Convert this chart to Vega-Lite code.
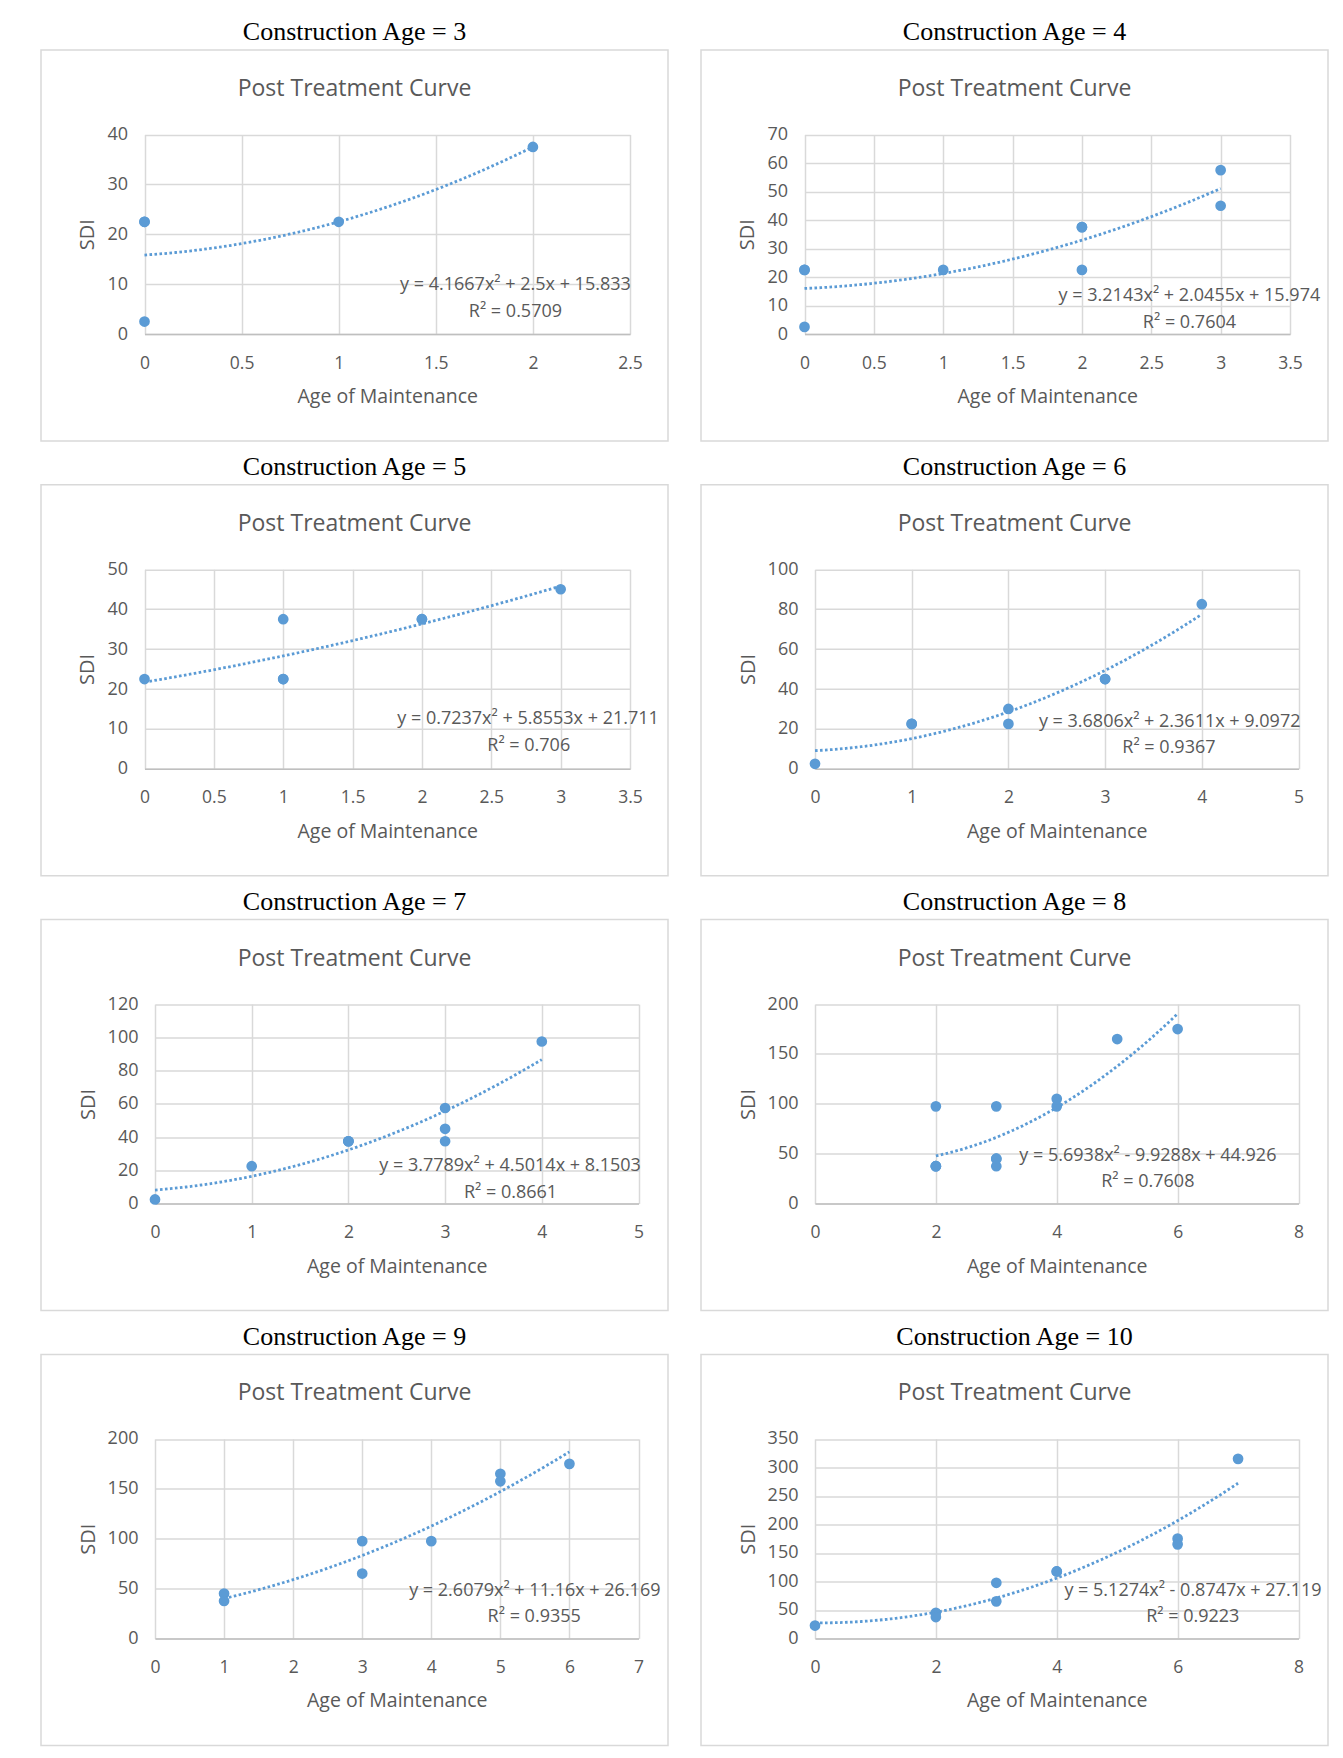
{
  "$schema": "https://vega.github.io/schema/vega-lite/v6.json",
  "background": "#ffffff",
  "padding": {"left": 40, "top": 19, "right": 5, "bottom": 5},
  "spacing": 11.8,
  "config": {
    "view": {"stroke": "#D9D9D9", "strokeWidth": 1.5},
    "axis": {"labelFont": "Open Sans", "labelFontSize": 17.5, "labelColor": "#595959", "titleFont": "Open Sans", "titleFontSize": 19.5, "titleFontWeight": "normal", "titleColor": "#595959", "gridColor": "#D9D9D9", "gridWidth": 1.5, "ticks": false, "tickSize": 0, "labelOverlap": false, "labelFlush": false, "labelBound": false},
    "axisX": {"labelPadding": 20, "titlePadding": 16},
    "axisY": {"labelPadding": 17, "titlePadding": 9, "labelFontSize": 18, "titleFontSize": 20}
  },
  "vconcat": [
    {"spacing": 31, "hconcat": [
      {
        "title": {"text": "Construction Age = 3", "font": "Liberation Serif", "fontSize": 26, "fontWeight": "normal", "color": "#000000", "anchor": "middle", "offset": 4},
        "vconcat": [{
          "width": 627, "height": 391,
          "title": {"text": "Post Treatment Curve", "font": "Open Sans", "fontSize": 23, "fontWeight": "normal", "color": "#595959", "anchor": "middle", "frame": "group", "offset": -51},
          "data": {"values": [{"Age": 0, "SDI": 2.5}, {"Age": 0, "SDI": 22.5}, {"Age": 0, "SDI": 22.5}, {"Age": 1, "SDI": 22.5}, {"Age": 2, "SDI": 37.5}]},
          "resolve": {"axis": {"x": "independent"}},
          "layer": [
            {"mark": {"type": "circle", "size": 115, "color": "#5B9BD5", "opacity": 1},
             "encoding": {
               "x": {"field": "Age", "type": "quantitative", "scale": {"domain": [0, 2.5], "range": [103.5, 589], "nice": false, "zero": false},
                     "axis": {"orient": "bottom", "offset": -107, "values": [0, 0.5, 1, 1.5, 2, 2.5], "format": "~f", "grid": false, "domain": true, "domainColor": "#BFBFBF", "domainWidth": 1.5, "title": "Age of Maintenance"}},
               "y": {"field": "SDI", "type": "quantitative", "scale": {"domain": [0, 40], "range": [284, 84.5], "nice": false, "zero": false},
                     "axis": {"orient": "left", "offset": -103.5, "values": [0, 10, 20, 30, 40], "format": "~f", "grid": true, "domain": false, "title": "SDI"}}
             }},
            {"transform": [{"regression": "SDI", "on": "Age", "method": "poly", "order": 2}],
             "mark": {"type": "line", "color": "#5B9BD5", "strokeWidth": 2.8, "strokeDash": [2.6, 2.4]},
             "encoding": {
               "x": {"field": "Age", "type": "quantitative", "scale": {"domain": [0, 2.5], "range": [103.5, 589], "nice": false, "zero": false},
                     "axis": {"orient": "top", "offset": 0, "values": [0, 0.5, 1, 1.5, 2, 2.5], "grid": true, "labels": false, "domain": false, "ticks": false, "title": null}},
               "y": {"field": "SDI", "type": "quantitative", "scale": {"domain": [0, 40], "range": [284, 84.5], "nice": false, "zero": false}}
             }},
            {"data": {"values": [{"eq": "y = 4.1667x² + 2.5x + 15.833"}]},
             "mark": {"type": "text", "font": "Open Sans", "fontSize": 18, "color": "#595959", "align": "center", "baseline": "middle"},
             "encoding": {
               "x": {"datum": 1.91, "type": "quantitative", "scale": {"domain": [0, 2.5], "range": [103.5, 589], "nice": false, "zero": false}, "axis": null},
               "y": {"datum": 9.86, "type": "quantitative", "scale": {"domain": [0, 40], "range": [284, 84.5], "nice": false, "zero": false}},
               "text": {"field": "eq"}
             }},
            {"data": {"values": [{"r2": "R² = 0.5709"}]},
             "mark": {"type": "text", "font": "Open Sans", "fontSize": 18, "color": "#595959", "align": "center", "baseline": "middle"},
             "encoding": {
               "x": {"datum": 1.91, "type": "quantitative", "scale": {"domain": [0, 2.5], "range": [103.5, 589], "nice": false, "zero": false}, "axis": null},
               "y": {"datum": 4.4, "type": "quantitative", "scale": {"domain": [0, 40], "range": [284, 84.5], "nice": false, "zero": false}},
               "text": {"field": "r2"}
             }}
          ]
        }]
      },
      {
        "title": {"text": "Construction Age = 4", "font": "Liberation Serif", "fontSize": 26, "fontWeight": "normal", "color": "#000000", "anchor": "middle", "offset": 4},
        "vconcat": [{
          "width": 627, "height": 391,
          "title": {"text": "Post Treatment Curve", "font": "Open Sans", "fontSize": 23, "fontWeight": "normal", "color": "#595959", "anchor": "middle", "frame": "group", "offset": -51},
          "data": {"values": [{"Age": 0, "SDI": 2.5}, {"Age": 0, "SDI": 22.5}, {"Age": 0, "SDI": 22.5}, {"Age": 1, "SDI": 22.5}, {"Age": 2, "SDI": 22.5}, {"Age": 2, "SDI": 37.5}, {"Age": 2, "SDI": 37.5}, {"Age": 3, "SDI": 45}, {"Age": 3, "SDI": 57.5}]},
          "resolve": {"axis": {"x": "independent"}},
          "layer": [
            {"mark": {"type": "circle", "size": 115, "color": "#5B9BD5", "opacity": 1},
             "encoding": {
               "x": {"field": "Age", "type": "quantitative", "scale": {"domain": [0, 3.5], "range": [103.5, 589], "nice": false, "zero": false},
                     "axis": {"orient": "bottom", "offset": -107, "values": [0, 0.5, 1, 1.5, 2, 2.5, 3, 3.5], "format": "~f", "grid": false, "domain": true, "domainColor": "#BFBFBF", "domainWidth": 1.5, "title": "Age of Maintenance"}},
               "y": {"field": "SDI", "type": "quantitative", "scale": {"domain": [0, 70], "range": [284, 84.5], "nice": false, "zero": false},
                     "axis": {"orient": "left", "offset": -103.5, "values": [0, 10, 20, 30, 40, 50, 60, 70], "format": "~f", "grid": true, "domain": false, "title": "SDI"}}
             }},
            {"transform": [{"regression": "SDI", "on": "Age", "method": "poly", "order": 2}],
             "mark": {"type": "line", "color": "#5B9BD5", "strokeWidth": 2.8, "strokeDash": [2.6, 2.4]},
             "encoding": {
               "x": {"field": "Age", "type": "quantitative", "scale": {"domain": [0, 3.5], "range": [103.5, 589], "nice": false, "zero": false},
                     "axis": {"orient": "top", "offset": 0, "values": [0, 0.5, 1, 1.5, 2, 2.5, 3, 3.5], "grid": true, "labels": false, "domain": false, "ticks": false, "title": null}},
               "y": {"field": "SDI", "type": "quantitative", "scale": {"domain": [0, 70], "range": [284, 84.5], "nice": false, "zero": false}}
             }},
            {"data": {"values": [{"eq": "y = 3.2143x² + 2.0455x + 15.974"}]},
             "mark": {"type": "text", "font": "Open Sans", "fontSize": 18, "color": "#595959", "align": "center", "baseline": "middle"},
             "encoding": {
               "x": {"datum": 2.775, "type": "quantitative", "scale": {"domain": [0, 3.5], "range": [103.5, 589], "nice": false, "zero": false}, "axis": null},
               "y": {"datum": 13.3, "type": "quantitative", "scale": {"domain": [0, 70], "range": [284, 84.5], "nice": false, "zero": false}},
               "text": {"field": "eq"}
             }},
            {"data": {"values": [{"r2": "R² = 0.7604"}]},
             "mark": {"type": "text", "font": "Open Sans", "fontSize": 18, "color": "#595959", "align": "center", "baseline": "middle"},
             "encoding": {
               "x": {"datum": 2.775, "type": "quantitative", "scale": {"domain": [0, 3.5], "range": [103.5, 589], "nice": false, "zero": false}, "axis": null},
               "y": {"datum": 3.9, "type": "quantitative", "scale": {"domain": [0, 70], "range": [284, 84.5], "nice": false, "zero": false}},
               "text": {"field": "r2"}
             }}
          ]
        }]
      }
    ]},
    {"spacing": 31, "hconcat": [
      {
        "title": {"text": "Construction Age = 5", "font": "Liberation Serif", "fontSize": 26, "fontWeight": "normal", "color": "#000000", "anchor": "middle", "offset": 4},
        "vconcat": [{
          "width": 627, "height": 391,
          "title": {"text": "Post Treatment Curve", "font": "Open Sans", "fontSize": 23, "fontWeight": "normal", "color": "#595959", "anchor": "middle", "frame": "group", "offset": -51},
          "data": {"values": [{"Age": 0, "SDI": 22.5}, {"Age": 1, "SDI": 22.5}, {"Age": 1, "SDI": 22.5}, {"Age": 1, "SDI": 37.5}, {"Age": 2, "SDI": 37.5}, {"Age": 2, "SDI": 37.5}, {"Age": 3, "SDI": 45}]},
          "resolve": {"axis": {"x": "independent"}},
          "layer": [
            {"mark": {"type": "circle", "size": 115, "color": "#5B9BD5", "opacity": 1},
             "encoding": {
               "x": {"field": "Age", "type": "quantitative", "scale": {"domain": [0, 3.5], "range": [103.5, 589], "nice": false, "zero": false},
                     "axis": {"orient": "bottom", "offset": -107, "values": [0, 0.5, 1, 1.5, 2, 2.5, 3, 3.5], "format": "~f", "grid": false, "domain": true, "domainColor": "#BFBFBF", "domainWidth": 1.5, "title": "Age of Maintenance"}},
               "y": {"field": "SDI", "type": "quantitative", "scale": {"domain": [0, 50], "range": [284, 84.5], "nice": false, "zero": false},
                     "axis": {"orient": "left", "offset": -103.5, "values": [0, 10, 20, 30, 40, 50], "format": "~f", "grid": true, "domain": false, "title": "SDI"}}
             }},
            {"transform": [{"regression": "SDI", "on": "Age", "method": "poly", "order": 2}],
             "mark": {"type": "line", "color": "#5B9BD5", "strokeWidth": 2.8, "strokeDash": [2.6, 2.4]},
             "encoding": {
               "x": {"field": "Age", "type": "quantitative", "scale": {"domain": [0, 3.5], "range": [103.5, 589], "nice": false, "zero": false},
                     "axis": {"orient": "top", "offset": 0, "values": [0, 0.5, 1, 1.5, 2, 2.5, 3, 3.5], "grid": true, "labels": false, "domain": false, "ticks": false, "title": null}},
               "y": {"field": "SDI", "type": "quantitative", "scale": {"domain": [0, 50], "range": [284, 84.5], "nice": false, "zero": false}}
             }},
            {"data": {"values": [{"eq": "y = 0.7237x² + 5.8553x + 21.711"}]},
             "mark": {"type": "text", "font": "Open Sans", "fontSize": 18, "color": "#595959", "align": "center", "baseline": "middle"},
             "encoding": {
               "x": {"datum": 2.765, "type": "quantitative", "scale": {"domain": [0, 3.5], "range": [103.5, 589], "nice": false, "zero": false}, "axis": null},
               "y": {"datum": 12.46, "type": "quantitative", "scale": {"domain": [0, 50], "range": [284, 84.5], "nice": false, "zero": false}},
               "text": {"field": "eq"}
             }},
            {"data": {"values": [{"r2": "R² = 0.706"}]},
             "mark": {"type": "text", "font": "Open Sans", "fontSize": 18, "color": "#595959", "align": "center", "baseline": "middle"},
             "encoding": {
               "x": {"datum": 2.77, "type": "quantitative", "scale": {"domain": [0, 3.5], "range": [103.5, 589], "nice": false, "zero": false}, "axis": null},
               "y": {"datum": 5.8, "type": "quantitative", "scale": {"domain": [0, 50], "range": [284, 84.5], "nice": false, "zero": false}},
               "text": {"field": "r2"}
             }}
          ]
        }]
      },
      {
        "title": {"text": "Construction Age = 6", "font": "Liberation Serif", "fontSize": 26, "fontWeight": "normal", "color": "#000000", "anchor": "middle", "offset": 4},
        "vconcat": [{
          "width": 627, "height": 391,
          "title": {"text": "Post Treatment Curve", "font": "Open Sans", "fontSize": 23, "fontWeight": "normal", "color": "#595959", "anchor": "middle", "frame": "group", "offset": -51},
          "data": {"values": [{"Age": 0, "SDI": 2.5}, {"Age": 1, "SDI": 22.5}, {"Age": 1, "SDI": 22.5}, {"Age": 2, "SDI": 22.5}, {"Age": 2, "SDI": 30}, {"Age": 3, "SDI": 45}, {"Age": 3, "SDI": 45}, {"Age": 4, "SDI": 82.5}]},
          "resolve": {"axis": {"x": "independent"}},
          "layer": [
            {"mark": {"type": "circle", "size": 115, "color": "#5B9BD5", "opacity": 1},
             "encoding": {
               "x": {"field": "Age", "type": "quantitative", "scale": {"domain": [0, 5], "range": [114, 597.5], "nice": false, "zero": false},
                     "axis": {"orient": "bottom", "offset": -107, "values": [0, 1, 2, 3, 4, 5], "format": "~f", "grid": false, "domain": true, "domainColor": "#BFBFBF", "domainWidth": 1.5, "title": "Age of Maintenance"}},
               "y": {"field": "SDI", "type": "quantitative", "scale": {"domain": [0, 100], "range": [284, 84.5], "nice": false, "zero": false},
                     "axis": {"orient": "left", "offset": -114, "values": [0, 20, 40, 60, 80, 100], "format": "~f", "grid": true, "domain": false, "title": "SDI"}}
             }},
            {"transform": [{"regression": "SDI", "on": "Age", "method": "poly", "order": 2}],
             "mark": {"type": "line", "color": "#5B9BD5", "strokeWidth": 2.8, "strokeDash": [2.6, 2.4]},
             "encoding": {
               "x": {"field": "Age", "type": "quantitative", "scale": {"domain": [0, 5], "range": [114, 597.5], "nice": false, "zero": false},
                     "axis": {"orient": "top", "offset": 0, "values": [0, 1, 2, 3, 4, 5], "grid": true, "labels": false, "domain": false, "ticks": false, "title": null}},
               "y": {"field": "SDI", "type": "quantitative", "scale": {"domain": [0, 100], "range": [284, 84.5], "nice": false, "zero": false}}
             }},
            {"data": {"values": [{"eq": "y = 3.6806x² + 2.3611x + 9.0972"}]},
             "mark": {"type": "text", "font": "Open Sans", "fontSize": 18, "color": "#595959", "align": "center", "baseline": "middle"},
             "encoding": {
               "x": {"datum": 3.668, "type": "quantitative", "scale": {"domain": [0, 5], "range": [114, 597.5], "nice": false, "zero": false}, "axis": null},
               "y": {"datum": 23.5, "type": "quantitative", "scale": {"domain": [0, 100], "range": [284, 84.5], "nice": false, "zero": false}},
               "text": {"field": "eq"}
             }},
            {"data": {"values": [{"r2": "R² = 0.9367"}]},
             "mark": {"type": "text", "font": "Open Sans", "fontSize": 18, "color": "#595959", "align": "center", "baseline": "middle"},
             "encoding": {
               "x": {"datum": 3.66, "type": "quantitative", "scale": {"domain": [0, 5], "range": [114, 597.5], "nice": false, "zero": false}, "axis": null},
               "y": {"datum": 10.6, "type": "quantitative", "scale": {"domain": [0, 100], "range": [284, 84.5], "nice": false, "zero": false}},
               "text": {"field": "r2"}
             }}
          ]
        }]
      }
    ]},
    {"spacing": 31, "hconcat": [
      {
        "title": {"text": "Construction Age = 7", "font": "Liberation Serif", "fontSize": 26, "fontWeight": "normal", "color": "#000000", "anchor": "middle", "offset": 4},
        "vconcat": [{
          "width": 627, "height": 391,
          "title": {"text": "Post Treatment Curve", "font": "Open Sans", "fontSize": 23, "fontWeight": "normal", "color": "#595959", "anchor": "middle", "frame": "group", "offset": -51},
          "data": {"values": [{"Age": 0, "SDI": 2.5}, {"Age": 1, "SDI": 22.5}, {"Age": 2, "SDI": 37.5}, {"Age": 2, "SDI": 37.5}, {"Age": 2, "SDI": 37.5}, {"Age": 3, "SDI": 37.5}, {"Age": 3, "SDI": 45}, {"Age": 3, "SDI": 57.5}, {"Age": 4, "SDI": 97.5}]},
          "resolve": {"axis": {"x": "independent"}},
          "layer": [
            {"mark": {"type": "circle", "size": 115, "color": "#5B9BD5", "opacity": 1},
             "encoding": {
               "x": {"field": "Age", "type": "quantitative", "scale": {"domain": [0, 5], "range": [114, 597.5], "nice": false, "zero": false},
                     "axis": {"orient": "bottom", "offset": -107, "values": [0, 1, 2, 3, 4, 5], "format": "~f", "grid": false, "domain": true, "domainColor": "#BFBFBF", "domainWidth": 1.5, "title": "Age of Maintenance"}},
               "y": {"field": "SDI", "type": "quantitative", "scale": {"domain": [0, 120], "range": [284, 84.5], "nice": false, "zero": false},
                     "axis": {"orient": "left", "offset": -114, "values": [0, 20, 40, 60, 80, 100, 120], "format": "~f", "grid": true, "domain": false, "title": "SDI"}}
             }},
            {"transform": [{"regression": "SDI", "on": "Age", "method": "poly", "order": 2}],
             "mark": {"type": "line", "color": "#5B9BD5", "strokeWidth": 2.8, "strokeDash": [2.6, 2.4]},
             "encoding": {
               "x": {"field": "Age", "type": "quantitative", "scale": {"domain": [0, 5], "range": [114, 597.5], "nice": false, "zero": false},
                     "axis": {"orient": "top", "offset": 0, "values": [0, 1, 2, 3, 4, 5], "grid": true, "labels": false, "domain": false, "ticks": false, "title": null}},
               "y": {"field": "SDI", "type": "quantitative", "scale": {"domain": [0, 120], "range": [284, 84.5], "nice": false, "zero": false}}
             }},
            {"data": {"values": [{"eq": "y = 3.7789x² + 4.5014x + 8.1503"}]},
             "mark": {"type": "text", "font": "Open Sans", "fontSize": 18, "color": "#595959", "align": "center", "baseline": "middle"},
             "encoding": {
               "x": {"datum": 3.672, "type": "quantitative", "scale": {"domain": [0, 5], "range": [114, 597.5], "nice": false, "zero": false}, "axis": null},
               "y": {"datum": 22.8, "type": "quantitative", "scale": {"domain": [0, 120], "range": [284, 84.5], "nice": false, "zero": false}},
               "text": {"field": "eq"}
             }},
            {"data": {"values": [{"r2": "R² = 0.8661"}]},
             "mark": {"type": "text", "font": "Open Sans", "fontSize": 18, "color": "#595959", "align": "center", "baseline": "middle"},
             "encoding": {
               "x": {"datum": 3.676, "type": "quantitative", "scale": {"domain": [0, 5], "range": [114, 597.5], "nice": false, "zero": false}, "axis": null},
               "y": {"datum": 6.6, "type": "quantitative", "scale": {"domain": [0, 120], "range": [284, 84.5], "nice": false, "zero": false}},
               "text": {"field": "r2"}
             }}
          ]
        }]
      },
      {
        "title": {"text": "Construction Age = 8", "font": "Liberation Serif", "fontSize": 26, "fontWeight": "normal", "color": "#000000", "anchor": "middle", "offset": 4},
        "vconcat": [{
          "width": 627, "height": 391,
          "title": {"text": "Post Treatment Curve", "font": "Open Sans", "fontSize": 23, "fontWeight": "normal", "color": "#595959", "anchor": "middle", "frame": "group", "offset": -51},
          "data": {"values": [{"Age": 2, "SDI": 37.5}, {"Age": 2, "SDI": 37.5}, {"Age": 2, "SDI": 37.5}, {"Age": 2, "SDI": 97.5}, {"Age": 3, "SDI": 37.5}, {"Age": 3, "SDI": 45}, {"Age": 3, "SDI": 45}, {"Age": 3, "SDI": 97.5}, {"Age": 4, "SDI": 97.5}, {"Age": 4, "SDI": 105}, {"Age": 5, "SDI": 165}, {"Age": 6, "SDI": 175}]},
          "resolve": {"axis": {"x": "independent"}},
          "layer": [
            {"mark": {"type": "circle", "size": 115, "color": "#5B9BD5", "opacity": 1},
             "encoding": {
               "x": {"field": "Age", "type": "quantitative", "scale": {"domain": [0, 8], "range": [114, 597.5], "nice": false, "zero": false},
                     "axis": {"orient": "bottom", "offset": -107, "values": [0, 2, 4, 6, 8], "format": "~f", "grid": false, "domain": true, "domainColor": "#BFBFBF", "domainWidth": 1.5, "title": "Age of Maintenance"}},
               "y": {"field": "SDI", "type": "quantitative", "scale": {"domain": [0, 200], "range": [284, 84.5], "nice": false, "zero": false},
                     "axis": {"orient": "left", "offset": -114, "values": [0, 50, 100, 150, 200], "format": "~f", "grid": true, "domain": false, "title": "SDI"}}
             }},
            {"transform": [{"regression": "SDI", "on": "Age", "method": "poly", "order": 2}],
             "mark": {"type": "line", "color": "#5B9BD5", "strokeWidth": 2.8, "strokeDash": [2.6, 2.4]},
             "encoding": {
               "x": {"field": "Age", "type": "quantitative", "scale": {"domain": [0, 8], "range": [114, 597.5], "nice": false, "zero": false},
                     "axis": {"orient": "top", "offset": 0, "values": [0, 2, 4, 6, 8], "grid": true, "labels": false, "domain": false, "ticks": false, "title": null}},
               "y": {"field": "SDI", "type": "quantitative", "scale": {"domain": [0, 200], "range": [284, 84.5], "nice": false, "zero": false}}
             }},
            {"data": {"values": [{"eq": "y = 5.6938x² - 9.9288x + 44.926"}]},
             "mark": {"type": "text", "font": "Open Sans", "fontSize": 18, "color": "#595959", "align": "center", "baseline": "middle"},
             "encoding": {
               "x": {"datum": 5.508, "type": "quantitative", "scale": {"domain": [0, 8], "range": [114, 597.5], "nice": false, "zero": false}, "axis": null},
               "y": {"datum": 47.5, "type": "quantitative", "scale": {"domain": [0, 200], "range": [284, 84.5], "nice": false, "zero": false}},
               "text": {"field": "eq"}
             }},
            {"data": {"values": [{"r2": "R² = 0.7608"}]},
             "mark": {"type": "text", "font": "Open Sans", "fontSize": 18, "color": "#595959", "align": "center", "baseline": "middle"},
             "encoding": {
               "x": {"datum": 5.507, "type": "quantitative", "scale": {"domain": [0, 8], "range": [114, 597.5], "nice": false, "zero": false}, "axis": null},
               "y": {"datum": 21.7, "type": "quantitative", "scale": {"domain": [0, 200], "range": [284, 84.5], "nice": false, "zero": false}},
               "text": {"field": "r2"}
             }}
          ]
        }]
      }
    ]},
    {"spacing": 31, "hconcat": [
      {
        "title": {"text": "Construction Age = 9", "font": "Liberation Serif", "fontSize": 26, "fontWeight": "normal", "color": "#000000", "anchor": "middle", "offset": 4},
        "vconcat": [{
          "width": 627, "height": 391,
          "title": {"text": "Post Treatment Curve", "font": "Open Sans", "fontSize": 23, "fontWeight": "normal", "color": "#595959", "anchor": "middle", "frame": "group", "offset": -51},
          "data": {"values": [{"Age": 1, "SDI": 45}, {"Age": 1, "SDI": 37.5}, {"Age": 3, "SDI": 97.5}, {"Age": 3, "SDI": 65}, {"Age": 4, "SDI": 97.5}, {"Age": 5, "SDI": 165}, {"Age": 5, "SDI": 157.5}, {"Age": 6, "SDI": 175}]},
          "resolve": {"axis": {"x": "independent"}},
          "layer": [
            {"mark": {"type": "circle", "size": 115, "color": "#5B9BD5", "opacity": 1},
             "encoding": {
               "x": {"field": "Age", "type": "quantitative", "scale": {"domain": [0, 7], "range": [114, 597.5], "nice": false, "zero": false},
                     "axis": {"orient": "bottom", "offset": -107, "values": [0, 1, 2, 3, 4, 5, 6, 7], "format": "~f", "grid": false, "domain": true, "domainColor": "#BFBFBF", "domainWidth": 1.5, "title": "Age of Maintenance"}},
               "y": {"field": "SDI", "type": "quantitative", "scale": {"domain": [0, 200], "range": [284, 84.5], "nice": false, "zero": false},
                     "axis": {"orient": "left", "offset": -114, "values": [0, 50, 100, 150, 200], "format": "~f", "grid": true, "domain": false, "title": "SDI"}}
             }},
            {"transform": [{"regression": "SDI", "on": "Age", "method": "poly", "order": 2}],
             "mark": {"type": "line", "color": "#5B9BD5", "strokeWidth": 2.8, "strokeDash": [2.6, 2.4]},
             "encoding": {
               "x": {"field": "Age", "type": "quantitative", "scale": {"domain": [0, 7], "range": [114, 597.5], "nice": false, "zero": false},
                     "axis": {"orient": "top", "offset": 0, "values": [0, 1, 2, 3, 4, 5, 6, 7], "grid": true, "labels": false, "domain": false, "ticks": false, "title": null}},
               "y": {"field": "SDI", "type": "quantitative", "scale": {"domain": [0, 200], "range": [284, 84.5], "nice": false, "zero": false}}
             }},
            {"data": {"values": [{"eq": "y = 2.6079x² + 11.16x + 26.169"}]},
             "mark": {"type": "text", "font": "Open Sans", "fontSize": 18, "color": "#595959", "align": "center", "baseline": "middle"},
             "encoding": {
               "x": {"datum": 5.499, "type": "quantitative", "scale": {"domain": [0, 7], "range": [114, 597.5], "nice": false, "zero": false}, "axis": null},
               "y": {"datum": 47.7, "type": "quantitative", "scale": {"domain": [0, 200], "range": [284, 84.5], "nice": false, "zero": false}},
               "text": {"field": "eq"}
             }},
            {"data": {"values": [{"r2": "R² = 0.9355"}]},
             "mark": {"type": "text", "font": "Open Sans", "fontSize": 18, "color": "#595959", "align": "center", "baseline": "middle"},
             "encoding": {
               "x": {"datum": 5.49, "type": "quantitative", "scale": {"domain": [0, 7], "range": [114, 597.5], "nice": false, "zero": false}, "axis": null},
               "y": {"datum": 21.5, "type": "quantitative", "scale": {"domain": [0, 200], "range": [284, 84.5], "nice": false, "zero": false}},
               "text": {"field": "r2"}
             }}
          ]
        }]
      },
      {
        "title": {"text": "Construction Age = 10", "font": "Liberation Serif", "fontSize": 26, "fontWeight": "normal", "color": "#000000", "anchor": "middle", "offset": 4},
        "vconcat": [{
          "width": 627, "height": 391,
          "title": {"text": "Post Treatment Curve", "font": "Open Sans", "fontSize": 23, "fontWeight": "normal", "color": "#595959", "anchor": "middle", "frame": "group", "offset": -51},
          "data": {"values": [{"Age": 0, "SDI": 22.5}, {"Age": 2, "SDI": 45}, {"Age": 2, "SDI": 37.5}, {"Age": 3, "SDI": 97.5}, {"Age": 3, "SDI": 65}, {"Age": 4, "SDI": 117.5}, {"Age": 4, "SDI": 117.5}, {"Age": 6, "SDI": 175}, {"Age": 6, "SDI": 165}, {"Age": 7, "SDI": 315}]},
          "resolve": {"axis": {"x": "independent"}},
          "layer": [
            {"mark": {"type": "circle", "size": 115, "color": "#5B9BD5", "opacity": 1},
             "encoding": {
               "x": {"field": "Age", "type": "quantitative", "scale": {"domain": [0, 8], "range": [114, 597.5], "nice": false, "zero": false},
                     "axis": {"orient": "bottom", "offset": -107, "values": [0, 2, 4, 6, 8], "format": "~f", "grid": false, "domain": true, "domainColor": "#BFBFBF", "domainWidth": 1.5, "title": "Age of Maintenance"}},
               "y": {"field": "SDI", "type": "quantitative", "scale": {"domain": [0, 350], "range": [284, 84.5], "nice": false, "zero": false},
                     "axis": {"orient": "left", "offset": -114, "values": [0, 50, 100, 150, 200, 250, 300, 350], "format": "~f", "grid": true, "domain": false, "title": "SDI"}}
             }},
            {"transform": [{"regression": "SDI", "on": "Age", "method": "poly", "order": 2}],
             "mark": {"type": "line", "color": "#5B9BD5", "strokeWidth": 2.8, "strokeDash": [2.6, 2.4]},
             "encoding": {
               "x": {"field": "Age", "type": "quantitative", "scale": {"domain": [0, 8], "range": [114, 597.5], "nice": false, "zero": false},
                     "axis": {"orient": "top", "offset": 0, "values": [0, 2, 4, 6, 8], "grid": true, "labels": false, "domain": false, "ticks": false, "title": null}},
               "y": {"field": "SDI", "type": "quantitative", "scale": {"domain": [0, 350], "range": [284, 84.5], "nice": false, "zero": false}}
             }},
            {"data": {"values": [{"eq": "y = 5.1274x² - 0.8747x + 27.119"}]},
             "mark": {"type": "text", "font": "Open Sans", "fontSize": 18, "color": "#595959", "align": "center", "baseline": "middle"},
             "encoding": {
               "x": {"datum": 6.254, "type": "quantitative", "scale": {"domain": [0, 8], "range": [114, 597.5], "nice": false, "zero": false}, "axis": null},
               "y": {"datum": 84, "type": "quantitative", "scale": {"domain": [0, 350], "range": [284, 84.5], "nice": false, "zero": false}},
               "text": {"field": "eq"}
             }},
            {"data": {"values": [{"r2": "R² = 0.9223"}]},
             "mark": {"type": "text", "font": "Open Sans", "fontSize": 18, "color": "#595959", "align": "center", "baseline": "middle"},
             "encoding": {
               "x": {"datum": 6.25, "type": "quantitative", "scale": {"domain": [0, 8], "range": [114, 597.5], "nice": false, "zero": false}, "axis": null},
               "y": {"datum": 38.2, "type": "quantitative", "scale": {"domain": [0, 350], "range": [284, 84.5], "nice": false, "zero": false}},
               "text": {"field": "r2"}
             }}
          ]
        }]
      }
    ]}
  ]
}
